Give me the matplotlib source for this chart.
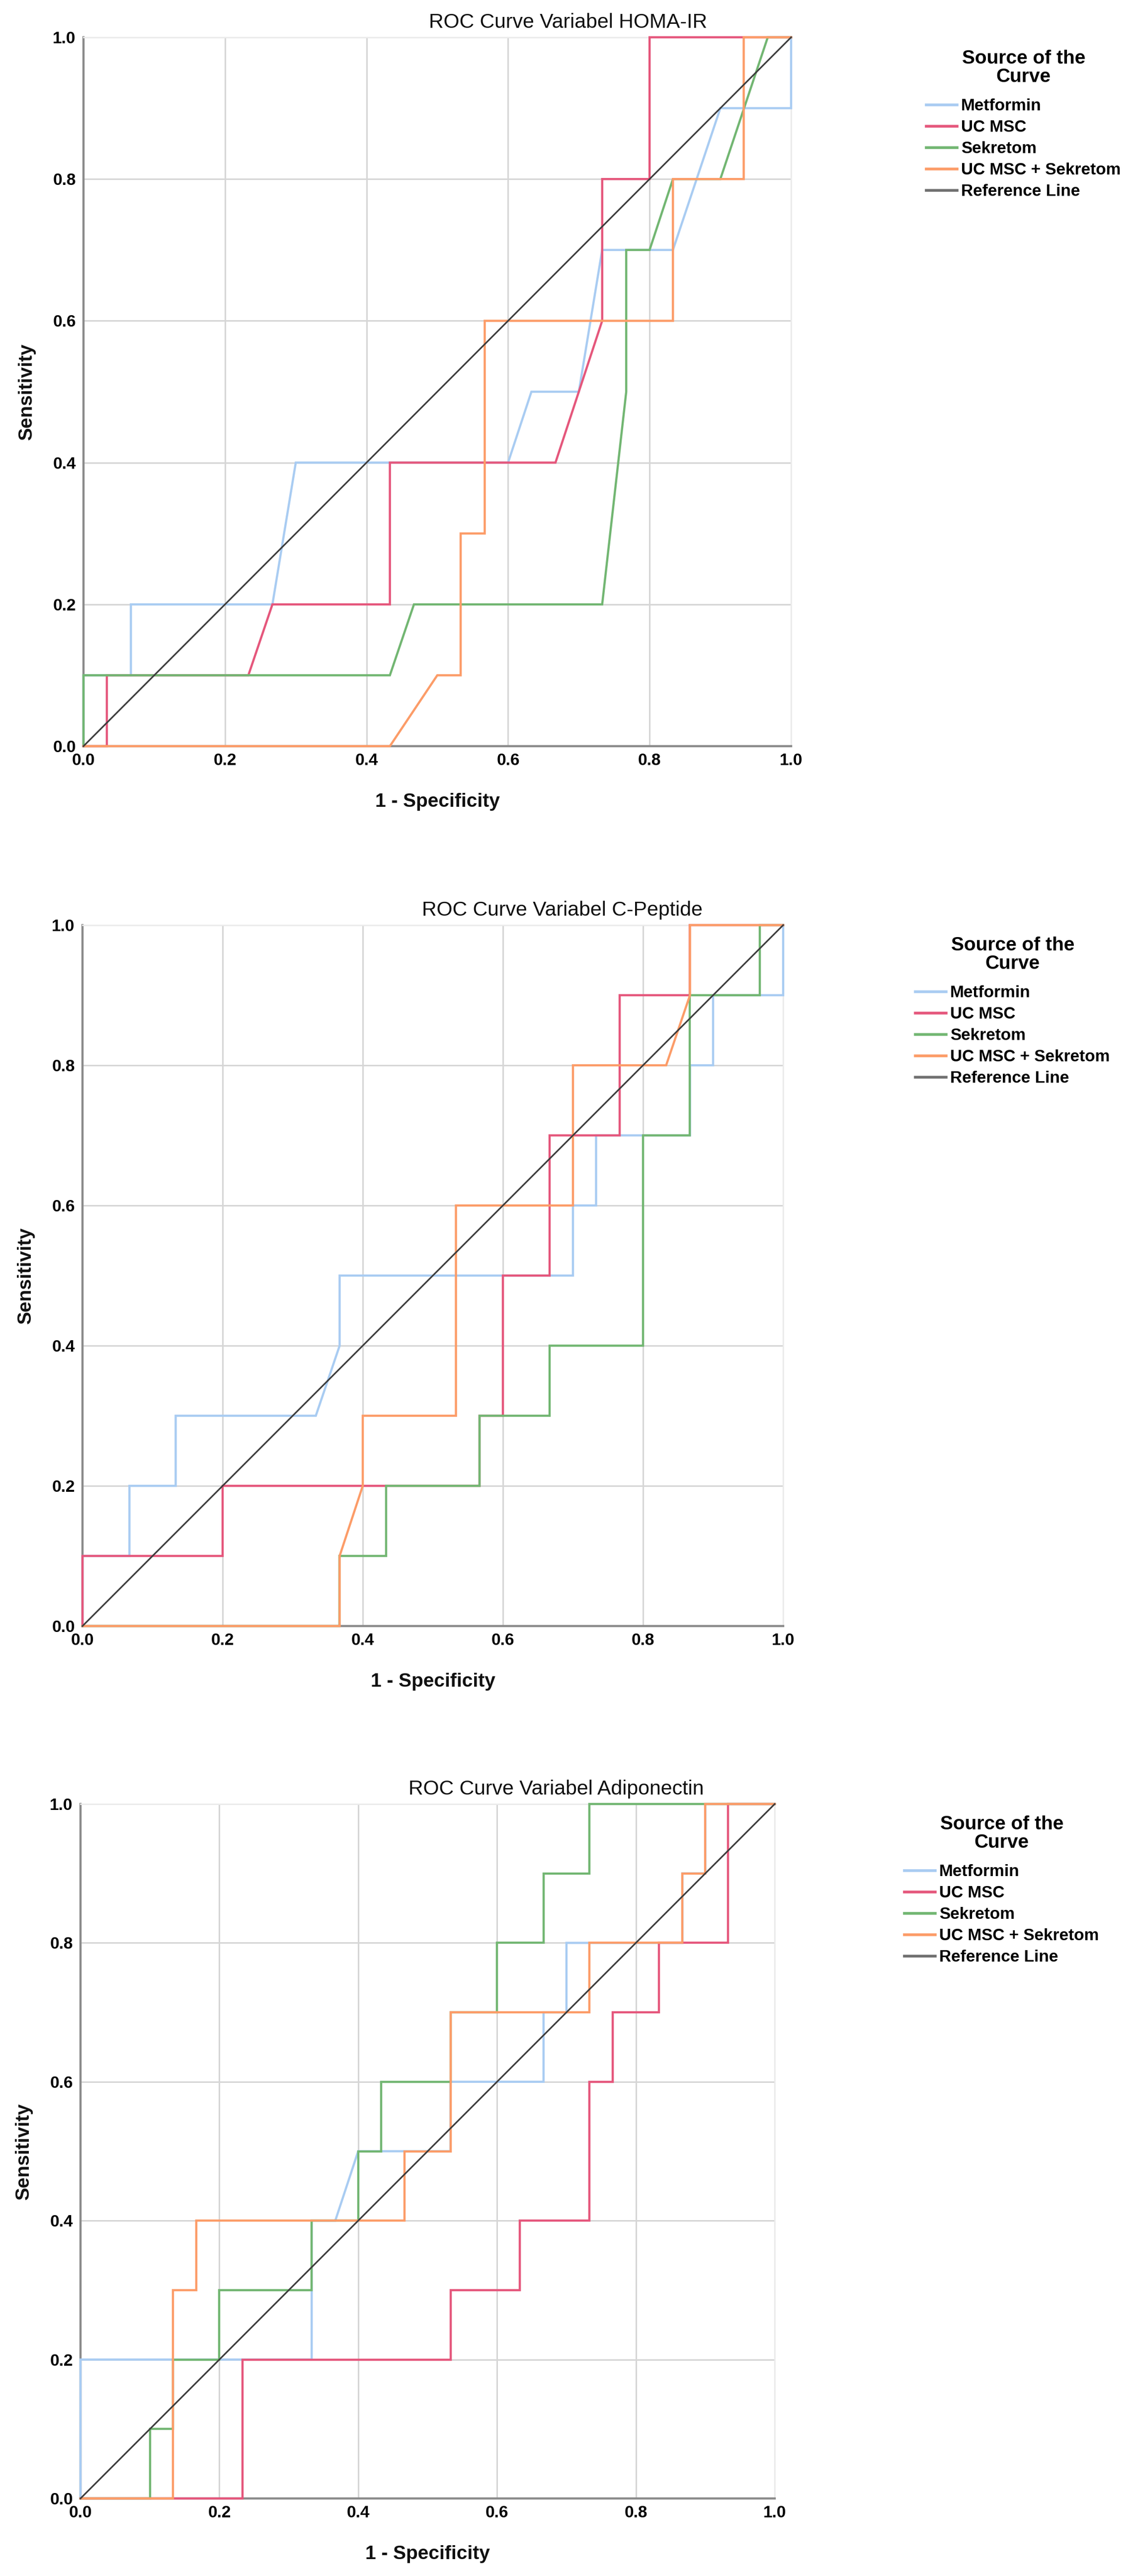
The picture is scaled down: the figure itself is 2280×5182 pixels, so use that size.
import matplotlib
matplotlib.use("Agg")
import matplotlib.pyplot as plt
from matplotlib import font_manager as fm

# ---------------- data ----------------
series_names = ["Metformin", "UC MSC", "Sekretom", "UC MSC + Sekretom"]
series_colors = ["#a9ccf2", "#e5577c", "#72b672", "#fc9c68"]
ref_label = "Reference Line"
ref_x = [0.0, 1.0]
ref_y = [0.0, 1.0]
tick_values = [0.0, 0.2, 0.4, 0.6, 0.8, 1.0]
tick_labels = ["0.0", "0.2", "0.4", "0.6", "0.8", "1.0"]
chart_titles = ["ROC Curve Variabel HOMA-IR", "ROC Curve Variabel C-Peptide",
                "ROC Curve Variabel Adiponectin"]

# HOMA-IR
homa_metformin_fpr = [0, 0, 0.067, 0.067, 0.267, 0.300, 0.600, 0.633, 0.700, 0.733, 0.833, 0.900, 1.000, 1.000]
homa_metformin_tpr = [0, 0.1, 0.1, 0.2, 0.2, 0.4, 0.4, 0.5, 0.5, 0.7, 0.7, 0.9, 0.9, 1.0]
homa_ucmsc_fpr = [0, 0.033, 0.033, 0.233, 0.267, 0.433, 0.433, 0.667, 0.700, 0.733, 0.733, 0.800, 0.800, 1.000]
homa_ucmsc_tpr = [0, 0, 0.1, 0.1, 0.2, 0.2, 0.4, 0.4, 0.5, 0.6, 0.8, 0.8, 1.0, 1.0]
homa_sekretom_fpr = [0, 0, 0.433, 0.467, 0.733, 0.767, 0.767, 0.800, 0.833, 0.900, 0.967, 1.000]
homa_sekretom_tpr = [0, 0.1, 0.1, 0.2, 0.2, 0.5, 0.7, 0.7, 0.8, 0.8, 1.0, 1.0]
homa_combo_fpr = [0, 0.433, 0.500, 0.533, 0.533, 0.567, 0.567, 0.833, 0.833, 0.933, 0.933, 1.000]
homa_combo_tpr = [0, 0, 0.1, 0.1, 0.3, 0.3, 0.6, 0.6, 0.8, 0.8, 1.0, 1.0]

# C-Peptide
cpep_metformin_fpr = [0, 0, 0.067, 0.067, 0.133, 0.133, 0.333, 0.367, 0.367, 0.700, 0.700, 0.733, 0.733, 0.867, 0.867, 0.900, 0.900, 1.000, 1.000]
cpep_metformin_tpr = [0, 0.1, 0.1, 0.2, 0.2, 0.3, 0.3, 0.4, 0.5, 0.5, 0.6, 0.6, 0.7, 0.7, 0.8, 0.8, 0.9, 0.9, 1.0]
cpep_ucmsc_fpr = [0, 0, 0.200, 0.200, 0.567, 0.567, 0.600, 0.600, 0.667, 0.667, 0.767, 0.767, 0.867, 0.867, 1.000]
cpep_ucmsc_tpr = [0, 0.1, 0.1, 0.2, 0.2, 0.3, 0.3, 0.5, 0.5, 0.7, 0.7, 0.9, 0.9, 1.0, 1.0]
cpep_sekretom_fpr = [0, 0.367, 0.367, 0.433, 0.433, 0.567, 0.567, 0.667, 0.667, 0.800, 0.800, 0.867, 0.867, 0.967, 0.967, 1.000]
cpep_sekretom_tpr = [0, 0, 0.1, 0.1, 0.2, 0.2, 0.3, 0.3, 0.4, 0.4, 0.7, 0.7, 0.9, 0.9, 1.0, 1.0]
cpep_combo_fpr = [0, 0.367, 0.367, 0.400, 0.400, 0.533, 0.533, 0.700, 0.700, 0.833, 0.867, 0.867, 1.000]
cpep_combo_tpr = [0, 0, 0.1, 0.2, 0.3, 0.3, 0.6, 0.6, 0.8, 0.8, 0.9, 1.0, 1.0]

# Adiponectin
adipo_metformin_fpr = [0, 0, 0.333, 0.333, 0.367, 0.400, 0.533, 0.533, 0.667, 0.667, 0.700, 0.700, 0.867, 0.867, 0.900, 0.900, 1.000]
adipo_metformin_tpr = [0, 0.2, 0.2, 0.4, 0.4, 0.5, 0.5, 0.6, 0.6, 0.7, 0.7, 0.8, 0.8, 0.9, 0.9, 1.0, 1.0]
adipo_ucmsc_fpr = [0, 0.233, 0.233, 0.533, 0.533, 0.633, 0.633, 0.733, 0.733, 0.767, 0.767, 0.833, 0.833, 0.933, 0.933, 1.000]
adipo_ucmsc_tpr = [0, 0, 0.2, 0.2, 0.3, 0.3, 0.4, 0.4, 0.6, 0.6, 0.7, 0.7, 0.8, 0.8, 1.0, 1.0]
adipo_sekretom_fpr = [0, 0.100, 0.100, 0.133, 0.133, 0.200, 0.200, 0.333, 0.333, 0.400, 0.400, 0.433, 0.433, 0.533, 0.533, 0.600, 0.600, 0.667, 0.667, 0.733, 0.733, 1.000]
adipo_sekretom_tpr = [0, 0, 0.1, 0.1, 0.2, 0.2, 0.3, 0.3, 0.4, 0.4, 0.5, 0.5, 0.6, 0.6, 0.7, 0.7, 0.8, 0.8, 0.9, 0.9, 1.0, 1.0]
adipo_combo_fpr = [0, 0.133, 0.133, 0.167, 0.167, 0.467, 0.467, 0.533, 0.533, 0.733, 0.733, 0.867, 0.867, 0.900, 0.900, 1.000]
adipo_combo_tpr = [0, 0, 0.3, 0.3, 0.4, 0.4, 0.5, 0.5, 0.7, 0.7, 0.8, 0.8, 0.9, 0.9, 1.0, 1.0]

charts = [
    [(homa_metformin_fpr, homa_metformin_tpr), (homa_ucmsc_fpr, homa_ucmsc_tpr),
     (homa_sekretom_fpr, homa_sekretom_tpr), (homa_combo_fpr, homa_combo_tpr)],
    [(cpep_metformin_fpr, cpep_metformin_tpr), (cpep_ucmsc_fpr, cpep_ucmsc_tpr),
     (cpep_sekretom_fpr, cpep_sekretom_tpr), (cpep_combo_fpr, cpep_combo_tpr)],
    [(adipo_metformin_fpr, adipo_metformin_tpr), (adipo_ucmsc_fpr, adipo_ucmsc_tpr),
     (adipo_sekretom_fpr, adipo_sekretom_tpr), (adipo_combo_fpr, adipo_combo_tpr)],
]

# ---------------- fonts ----------------
installed = {f.name for f in fm.fontManager.ttflist}
REG = "Liberation Sans" if "Liberation Sans" in installed else "DejaVu Sans"
NARROW = "Liberation Sans Narrow" if "Liberation Sans Narrow" in installed else REG
LABEL_SIZE = 26 if NARROW != REG else 24

# ---------------- layout (pixels) ----------------
W, H = 2280, 5182
layouts = [
    dict(l=168, r=1592, t=75, b=1501, lx=1864, ly=100),
    dict(l=166, r=1576, t=1861, b=3271, lx=1842, ly=1884),
    dict(l=162, r=1559, t=3629, b=5026, lx=1820, ly=3652),
]

fig = plt.figure(figsize=(W / 100, H / 100), dpi=100)
fig.patch.set_facecolor("white")

for ci, (series, lay, title) in enumerate(zip(charts, layouts, chart_titles)):
    wpx = lay["r"] - lay["l"]
    hpx = lay["b"] - lay["t"]
    ax = fig.add_axes([lay["l"] / W, 1 - lay["b"] / H, wpx / W, hpx / H])
    ax.set_xlim(0, 1)
    ax.set_ylim(0, 1)
    ax.set_xticks(tick_values)
    ax.set_yticks(tick_values)
    ax.set_xticklabels(tick_labels, fontfamily=NARROW, fontweight="bold", fontsize=LABEL_SIZE)
    ax.set_yticklabels(tick_labels, fontfamily=NARROW, fontweight="bold", fontsize=LABEL_SIZE)
    ax.tick_params(axis="both", length=0)
    ax.tick_params(axis="x", pad=10)
    ax.tick_params(axis="y", pad=11)
    ax.grid(True, color="#d6d6d6", linewidth=2.2, zorder=0)
    ax.set_axisbelow(True)
    for side in ("top", "right"):
        ax.spines[side].set_color("#ececec")
        ax.spines[side].set_linewidth(2.0)
    for side in ("left", "bottom"):
        ax.spines[side].set_color("#8c8c8c")
        ax.spines[side].set_linewidth(3.2)

    for k, ((fx, ty), name, col) in enumerate(zip(series, series_names, series_colors)):
        ax.plot(fx, ty, color=col, linewidth=3.2, label=name, zorder=3 + k,
                clip_on=False, solid_joinstyle="miter")
    ax.plot(ref_x, ref_y, color="#3d3d3d", linewidth=2.3, label=ref_label, zorder=8,
            clip_on=False)

    ax.text(0.685, 1 + 30 / hpx, title, transform=ax.transAxes, ha="center",
            va="center", fontsize=29.5, fontfamily=REG, color="#111111")

    ax.set_xlabel("1 - Specificity", fontsize=28, fontweight="bold", fontfamily=REG,
                  va="center", color="#111111")
    ax.xaxis.set_label_coords(0.5, -112 / hpx)
    ax.set_ylabel("Sensitivity", fontsize=28, fontweight="bold", fontfamily=REG,
                  va="center", ha="center", color="#111111")
    ax.yaxis.set_label_coords(-114 / wpx, 0.5)

    leg = ax.legend(loc="upper left",
                    bbox_to_anchor=(lay["lx"] / W, 1 - lay["ly"] / H),
                    bbox_transform=fig.transFigure, frameon=False,
                    borderpad=0, borderaxespad=0, handlelength=1.85,
                    handletextpad=0.25, labelspacing=0.36,
                    title="Source of the\nCurve",
                    prop={"family": NARROW, "weight": "bold", "size": LABEL_SIZE})
    t = leg.get_title()
    t.set_fontfamily(REG)
    t.set_fontweight("bold")
    t.set_fontsize(28)
    t.set_linespacing(1.05)
    t.set_ha("center")
    leg._legend_box.sep = 18
    for lh in leg.get_lines():
        lh.set_linewidth(4.0)
    leg.get_lines()[-1].set_color("#707070")

fig.savefig("out.png", dpi=100, facecolor="white")
